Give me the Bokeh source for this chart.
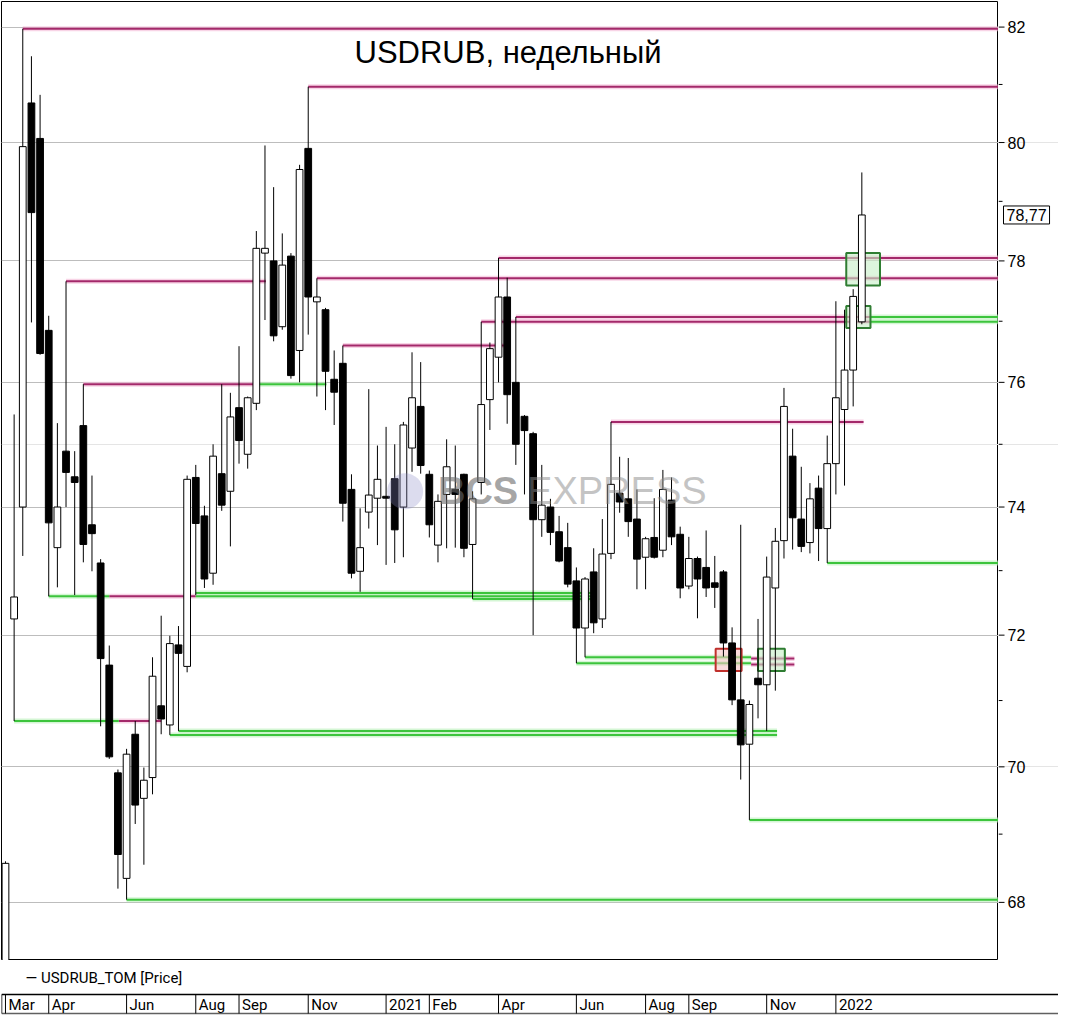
import numpy as np
import pandas as pd
from bokeh.plotting import figure
from bokeh.models import Range1d, FixedTicker, ColumnDataSource, Label, Grid
from bokeh.layouts import column, row
from bokeh.core.properties import value
from bokeh.embed import file_html
from bokeh.resources import INLINE

# ---------------- data (weekly USDRUB_TOM) ----------------
dates = pd.date_range("2020-03-01", periods=100, freq="7D")
open_ = [67.00, 72.25, 74.00, 80.68, 80.07, 76.85, 73.36, 74.89, 74.48, 75.30,
         73.72, 73.12, 71.54, 69.91, 68.35, 70.49, 69.53, 69.84, 70.92, 70.63,
         71.85, 71.52, 74.47, 73.86, 72.96, 74.53, 74.25, 75.59, 74.84, 75.66,
         78.13, 78.00, 76.91, 78.08, 76.52, 79.90, 77.32, 77.19, 76.05, 76.31,
         74.28, 72.99, 73.92, 74.14, 74.17, 74.45, 74.00, 74.94, 75.61, 74.52,
         73.40, 74.20, 74.28, 74.52, 73.41, 74.39, 75.72, 76.41, 77.40, 76.00,
         75.45, 75.17, 73.80, 74.00, 73.61, 73.36, 72.84, 72.11, 72.98, 72.25,
         73.27, 74.22, 74.13, 73.81, 73.21, 73.52, 73.32, 74.11, 73.57, 72.76,
         73.19, 73.05, 72.81, 72.98, 71.88, 71.01, 70.34, 71.34, 71.24, 72.73,
         73.47, 74.81, 73.81, 73.44, 74.30, 73.66, 74.69, 75.56, 76.20, 76.99]
high = [68.60, 75.48, 81.97, 81.49, 80.82, 77.09, 75.34, 77.66, 74.89, 75.97,
        74.50, 73.18, 71.84, 69.96, 70.27, 70.69, 69.99, 71.66, 72.30, 71.99,
        72.14, 74.50, 74.67, 74.02, 75.00, 75.97, 75.83, 76.59, 75.77, 78.50,
        79.95, 79.24, 78.46, 78.13, 79.62, 80.96, 77.71, 77.22, 76.52, 76.60,
        74.52, 73.98, 75.89, 74.98, 75.28, 75.00, 75.36, 76.49, 76.33, 74.58,
        74.20, 75.08, 74.98, 74.53, 74.25, 76.99, 76.65, 78.05, 77.72, 77.07,
        75.47, 75.20, 74.67, 74.13, 73.86, 73.75, 73.05, 72.90, 73.35, 73.81,
        75.36, 74.80, 74.78, 74.28, 73.53, 74.14, 74.59, 74.47, 73.69, 73.53,
        73.22, 73.63, 73.23, 73.01, 72.12, 73.72, 71.00, 72.25, 73.22, 73.67,
        75.91, 75.25, 74.64, 74.38, 74.50, 75.14, 77.33, 77.19, 77.53, 79.49]
low = [66.90, 70.69, 73.23, 76.98, 76.45, 72.60, 72.74, 74.00, 72.62, 73.13,
       72.99, 70.61, 70.12, 68.20, 68.04, 69.15, 68.55, 69.59, 70.49, 70.48,
       70.54, 71.43, 72.62, 72.73, 72.78, 73.94, 73.38, 74.69, 74.61, 75.55,
       77.02, 76.67, 76.86, 76.06, 76.00, 76.78, 75.77, 75.55, 75.31, 73.77,
       72.88, 72.67, 73.66, 73.40, 73.09, 73.12, 73.21, 74.56, 74.53, 73.52,
       73.13, 73.35, 73.36, 73.21, 72.56, 74.20, 75.23, 76.00, 75.33, 74.67,
       74.20, 72.00, 73.53, 73.40, 73.13, 72.74, 71.57, 71.66, 72.03, 72.11,
       73.18, 73.91, 73.53, 72.71, 72.71, 73.19, 73.21, 73.40, 72.57, 72.71,
       72.26, 72.59, 72.42, 71.67, 70.93, 69.81, 69.21, 70.73, 70.54, 71.15,
       73.19, 73.33, 73.29, 73.27, 73.15, 73.12, 74.20, 74.34, 75.61, 76.95]
close = [68.57, 72.59, 79.93, 78.81, 76.47, 73.75, 74.00, 74.55, 74.39, 73.41,
         73.58, 71.64, 70.15, 68.70, 70.19, 69.43, 69.80, 71.37, 70.72, 71.87,
         71.72, 74.44, 73.74, 72.87, 74.81, 74.03, 75.44, 75.06, 75.75, 78.21,
         78.21, 76.76, 77.93, 76.11, 79.54, 77.40, 77.40, 76.18, 75.84, 74.06,
         72.96, 73.36, 74.19, 74.44, 74.14, 73.64, 75.31, 75.75, 74.66, 73.72,
         74.09, 74.64, 74.20, 73.35, 74.13, 75.64, 76.55, 77.40, 75.80, 75.00,
         75.22, 73.80, 74.03, 73.60, 73.15, 72.79, 72.11, 72.87, 72.19, 73.26,
         74.36, 74.08, 73.77, 73.18, 73.50, 73.21, 74.28, 73.53, 72.73, 73.19,
         72.87, 72.73, 72.74, 71.88, 71.01, 70.33, 70.94, 71.24, 72.90, 73.46,
         75.61, 73.83, 73.38, 74.13, 73.66, 74.69, 75.75, 76.20, 77.41, 78.77]
last_price = "78,77"

# level lines: (start bar, end bar, price); end 130 = to the right edge
res_start = [2, 35, 7, 9, 36, 39, 57, 55, 59, 70, 13.1, 12.0, 86.2, 86.2]
res_end = [130, 130, 30.1, 29.2, 130, 58.1, 130, 100.0, 100.0, 99.2, 18.0, 22.0, 91.2, 91.2]
res_price = [81.97, 80.96, 77.66, 75.97, 77.71, 76.60, 78.05, 76.99, 77.07, 75.36, 70.69, 72.60, 71.64, 71.55]
sup_start = [1, 5, 22, 22, 54, 67, 66, 20, 19, 86, 14, 95, 29.2, 100.0, 100.0]
sup_end = [13.1, 12.0, 68.1, 68.1, 68.1, 86.2, 86.2, 89.2, 89.2, 130, 130, 130, 37.1, 130, 130]
sup_price = [70.69, 72.60, 72.65, 72.60, 72.56, 71.66, 71.57, 70.54, 70.48, 69.21, 68.04, 73.12, 75.97, 77.07, 76.99]

# highlight boxes: (left bar, right bar, low, high)
box_left = [82.1, 87.0, 97.2, 97.2]
box_right = [85.1, 90.1, 101.1, 100.0]
box_low = [71.45, 71.45, 77.59, 76.89]
box_high = [71.79, 71.79, 78.13, 77.25]
box_kind = ["red", "green", "green", "green"]

y_ticks = [68, 70, 72, 74, 76, 78, 80, 82]
y_minor = [69, 71, 73, 75, 77, 79, 81]
month_labels = ["Mar", "Apr", "Jun", "Aug", "Sep", "Nov", "2021", "Feb", "Apr", "Jun", "Aug", "Sep", "Nov", "2022"]
month_starts = ["2020-03", "2020-04", "2020-06", "2020-08", "2020-09", "2020-11", "2021-01", "2021-02",
                "2021-04", "2021-06", "2021-08", "2021-09", "2021-11", "2022-01"]

# ---------------- layout constants ----------------
X0, X1 = -0.46, 114.8
Y0, Y1 = 67.16, 82.45
FW, FH = 997, 959
RW = 60
px_per_bar = FW / (X1 - X0)
FONT = "Liberation Sans"
NARROW = "Roboto"

idx = np.arange(len(dates))
o = np.array(open_); c = np.array(close)
src = ColumnDataSource(dict(
    x=idx, high=high, low=low,
    top=np.maximum(o, c), bottom=np.minimum(o, c),
    fill=["white" if cc >= oo else "black" for oo, cc in zip(o, c)]))

yr = Range1d(Y0, Y1)
p = figure(frame_width=FW, frame_height=FH, x_range=Range1d(X0, X1), y_range=yr,
           y_axis_type="log", y_axis_location=None, x_axis_type=None,
           output_backend="svg", toolbar_location=None,
           min_border_left=1, min_border_top=1, min_border_bottom=0, min_border_right=0)
p.outline_line_color = "black"
p.outline_line_alpha = 1
p.background_fill_color = "white"
p.border_fill_color = "white"
p.add_layout(Grid(dimension=1, ticker=FixedTicker(ticks=y_ticks), grid_line_color="#bdbdbd", grid_line_width=1))

# level lines with soft halo
MAG, MAG_H = "#a3296a", "#f3b8d6"
GRN, GRN_H = "#3cc43c", "#b8f0b8"
p.segment(x0=res_start, x1=res_end, y0=res_price, y1=res_price, line_color=MAG_H, line_width=5, line_alpha=0.6)
p.segment(x0=sup_start, x1=sup_end, y0=sup_price, y1=sup_price, line_color=GRN_H, line_width=5, line_alpha=0.6)
p.segment(x0=res_start, x1=res_end, y0=res_price, y1=res_price, line_color=MAG, line_width=2)
p.segment(x0=sup_start, x1=sup_end, y0=sup_price, y1=sup_price, line_color=GRN, line_width=2)

# boxes
bsrc = ColumnDataSource(dict(
    left=box_left, right=box_right, bottom=box_low, top=box_high,
    fill=["#f6c4c4" if k == "red" else "#c6efc6" for k in box_kind],
    line=["#c0302c" if k == "red" else "#2f7d32" for k in box_kind]))
p.quad(left="left", right="right", bottom="bottom", top="top", fill_color="fill", fill_alpha=0.6,
       line_color="line", line_width=2, source=bsrc)

# candles
p.segment(x0="x", x1="x", y0="low", y1="high", line_color="black", line_width=1, source=src)
p.vbar(x="x", width=0.78, top="top", bottom="bottom", fill_color="fill", line_color="black",
       line_width=1, source=src)

# watermark
p.scatter(x=[46.2], y=[74.25], size=36, fill_color="#8c8cc8", fill_alpha=0.3, line_color=None)
p.add_layout(Label(x=50.0, y=74.25, text="BCS", text_font=FONT, text_font_style="bold",
                   text_font_size="38px", text_color="#6a6a6a", text_alpha=0.6, text_baseline="middle"))
p.add_layout(Label(x=60.3, y=74.25, text="EXPRESS", text_font=FONT,
                   text_font_size="38px", text_color="#8a8a8a", text_alpha=0.5, text_baseline="middle"))

# title
p.add_layout(Label(x=58.1, y=81.55, text="USDRUB, недельный", text_font=FONT,
                   text_font_size="31px", text_color="black", text_align="center", text_baseline="middle"))

# ---------------- right price scale ----------------
r = figure(frame_width=RW, frame_height=FH, x_range=Range1d(0, RW), y_range=yr,
           y_axis_type="log", y_axis_location=None, x_axis_type=None,
           output_backend="svg", toolbar_location=None,
           min_border_left=0, min_border_top=1, min_border_bottom=0, min_border_right=0)
r.outline_line_color = None
r.background_fill_color = "white"
r.border_fill_color = "white"
r.segment(x0=[0] * len(y_ticks), x1=[6] * len(y_ticks), y0=y_ticks, y1=y_ticks, line_color="black", line_width=1)
r.segment(x0=[0] * len(y_minor), x1=[4] * len(y_minor), y0=y_minor, y1=y_minor, line_color="black", line_width=1)
r.text(x=[9] * len(y_ticks), y=y_ticks, text=[str(t) for t in y_ticks], text_font=value(FONT),
       text_font_size="16px", text_color="black", text_align="left", text_baseline="middle")
r.add_layout(Label(x=5, y=close[-1], text=last_price, text_font=FONT, text_font_size="16px",
                   text_color="black", text_baseline="middle", text_align="left",
                   border_line_color="black", border_line_width=1, background_fill_color="white",
                   padding=3))

# ---------------- bottom strip (legend + date axis) ----------------
XB1 = X0 + (X1 - X0) * (FW + RW) / FW
b = figure(frame_width=FW + RW, frame_height=56, x_range=Range1d(X0, XB1), y_range=Range1d(56, 0),
           x_axis_type=None, y_axis_type=None, output_backend="svg", toolbar_location=None,
           min_border_left=1, min_border_right=0, min_border_top=0, min_border_bottom=0)
b.outline_line_color = None
b.background_fill_color = "white"
b.border_fill_color = "white"

tick_pos = [int(np.argmax(dates >= pd.Timestamp(m + "-01"))) for m in month_starts]
b.segment(x0=[X0], x1=[XB1], y0=[34], y1=[34], line_color="black", line_width=1.5)
b.segment(x0=[X0], x1=[XB1], y0=[53], y1=[53], line_color="#606060", line_width=1.5)
b.segment(x0=[X0], x1=[X0], y0=[34], y1=[53], line_color="black", line_width=1.5)
b.segment(x0=tick_pos, x1=tick_pos, y0=[34] * len(tick_pos), y1=[53] * len(tick_pos),
          line_color="black", line_width=1)
b.text(x=tick_pos, y=[44] * len(tick_pos), text=month_labels, x_offset=3,
       text_font=value(NARROW), text_font_size="15px", text_color="black",
       text_align="left", text_baseline="middle")
b.add_layout(Label(x=X0 + 24 / px_per_bar, y=17, text="—  USDRUB_TOM [Price]",
                   text_font=NARROW, text_font_size="15px", text_color="black",
                   text_baseline="middle"))

layout = column(row(p, r, spacing=0), b, spacing=0)
open("out.html", "w").write(file_html(layout, INLINE))
